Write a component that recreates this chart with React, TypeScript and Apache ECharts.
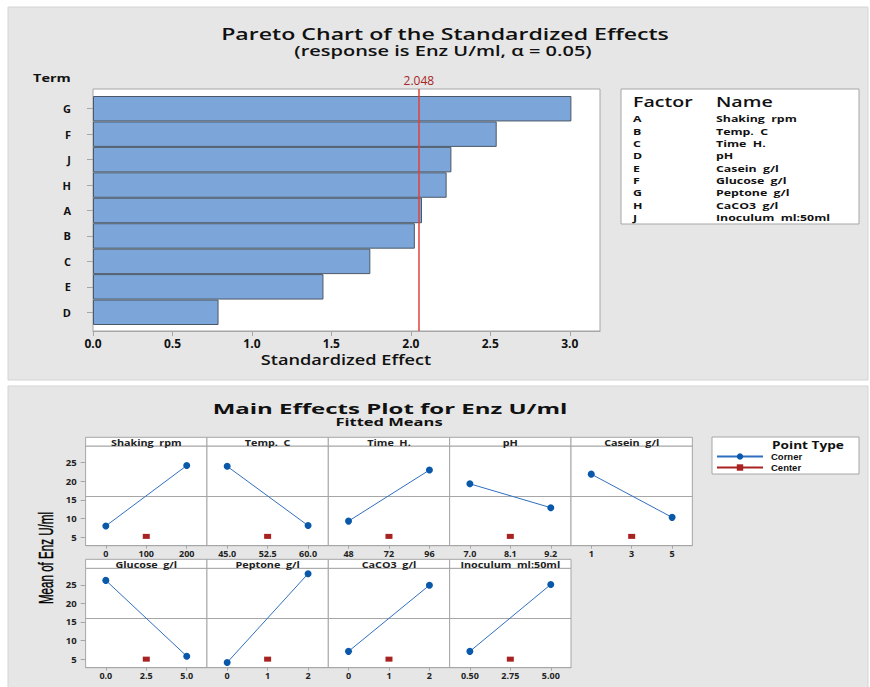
import React, { useEffect, useRef } from "react";
import * as echarts from "echarts";

// ---------- Data ----------
const terms = ["G", "F", "J", "H", "A", "B", "C", "E", "D"];
const effects = [3.01, 2.54, 2.255, 2.225, 2.07, 2.025, 1.745, 1.45, 0.79];
const criticalValue = 2.048;
const effectAxisMax = 3.19;

const factorCodes = ["A", "B", "C", "D", "E", "F", "G", "H", "J"];
const factorNames = [
  "Shaking  rpm",
  "Temp.  C",
  "Time  H.",
  "pH",
  "Casein  g/l",
  "Glucose  g/l",
  "Peptone  g/l",
  "CaCO3  g/l",
  "Inoculum  ml:50ml",
];
const levelLabels = [
  ["0", "100", "200"],
  ["45.0", "52.5", "60.0"],
  ["48", "72", "96"],
  ["7.0", "8.1", "9.2"],
  ["1", "3", "5"],
  ["0.0", "2.5", "5.0"],
  ["0", "1", "2"],
  ["0", "1", "2"],
  ["0.50", "2.75", "5.00"],
];
const cornerLow = [8.0, 24.0, 9.3, 19.3, 21.9, 26.2, 4.1, 7.1, 7.1];
const cornerHigh = [24.2, 8.1, 23.0, 12.9, 10.3, 5.8, 28.0, 24.9, 25.1];
const centerMeans = [5.2, 5.2, 5.2, 5.2, 5.2, 5.0, 5.0, 5.0, 5.0];
const grandMean = 15.9;
const meanTicks = [5, 10, 15, 20, 25];
const pointTypes = ["Corner", "Center"];

// ---------- Styles / layout ----------
const FONT = "'Open Sans', 'Noto Sans', sans-serif";
const GRID_BORDER = "#a6a6a6";
const PANEL_BG = "#e6e6e6";
const TEXT = "#111";

function label(
  text: string,
  x: number,
  y: number,
  fontSize: number,
  scaleX: number,
  align: string = "left",
  weight: any = "bold",
  fill: string = TEXT
) {
  return {
    type: "text",
    x,
    y,
    scaleX,
    z: 10,
    style: {
      text,
      fontFamily: FONT,
      fontWeight: weight,
      fontSize,
      fill,
      textAlign: align,
      textVerticalAlign: "middle",
    },
  };
}

export default function App() {
  const ref = useRef<HTMLDivElement>(null);

  useEffect(() => {
    if (!ref.current) return;
    const chart = echarts.init(ref.current, undefined, { renderer: "svg" });

    const grids: any[] = [];
    const xAxes: any[] = [];
    const yAxes: any[] = [];
    const series: any[] = [];
    const graphics: any[] = [];

    // panels background
    graphics.push({
      type: "rect",
      z: -10,
      shape: { x: 8, y: 7, width: 860, height: 373 },
      style: { fill: PANEL_BG, stroke: "#d4d4d4", lineWidth: 1 },
    });
    graphics.push({
      type: "rect",
      z: -10,
      shape: { x: 8, y: 386, width: 860, height: 305 },
      style: { fill: PANEL_BG, stroke: "#d4d4d4", lineWidth: 1 },
    });

    // ---------- Pareto ----------
    const pLeft = 93, pRight = 600, pTop = 89, pBottom = 331;
    grids.push({
      left: pLeft,
      top: pTop,
      width: pRight - pLeft,
      height: pBottom - pTop,
      show: true,
      backgroundColor: "#ffffff",
      borderColor: GRID_BORDER,
      borderWidth: 1,
      containLabel: false,
    });
    grids.push({
      left: pLeft,
      top: 96,
      width: pRight - pLeft,
      height: 229,
      containLabel: false,
    });
    xAxes.push({
      gridIndex: 0,
      type: "value",
      min: 0,
      max: effectAxisMax,
      interval: 0.5,
      splitLine: { show: false },
      axisLine: { show: true, lineStyle: { color: GRID_BORDER } },
      axisTick: { show: true, length: 5, lineStyle: { color: GRID_BORDER } },
      axisLabel: {
        color: TEXT,
        fontFamily: FONT,
        fontWeight: "bold",
        fontSize: 12,
        margin: 6,
        formatter: (v: number) => v.toFixed(1),
        showMaxLabel: false,
      },
    });
    xAxes.push({ gridIndex: 1, type: "value", min: 0, max: effectAxisMax, show: false });
    yAxes.push({ gridIndex: 0, type: "value", min: 0, max: 1, show: false });
    yAxes.push({
      gridIndex: 1,
      type: "category",
      data: terms,
      inverse: true,
      axisLine: { show: false },
      axisTick: { show: true, length: 6, alignWithLabel: true, lineStyle: { color: GRID_BORDER } },
      axisLabel: { color: TEXT, fontFamily: FONT, fontWeight: "bold", fontSize: 11, margin: 22 },
    });
    series.push({
      type: "bar",
      xAxisIndex: 1,
      yAxisIndex: 1,
      data: effects,
      barCategoryGap: "0%",
      itemStyle: { color: "#7ca6d9", borderColor: "#4b5868", borderWidth: 1 },
      silent: true,
      z: 3,
    });
    series.push({
      type: "line",
      xAxisIndex: 0,
      yAxisIndex: 0,
      data: [],
      z: 5,
      markLine: {
        silent: true,
        symbol: "none",
        lineStyle: { color: "#e0423c", width: 1.5, type: "solid" },
        label: {
          show: true,
          position: "end",
          formatter: criticalValue.toFixed(3),
          color: "#a52626",
          fontFamily: FONT,
          fontSize: 12,
          distance: 3,
        },
        data: [{ xAxis: criticalValue }],
      },
    });

    graphics.push(label("Standardized Effect", 346, 360, 14, 1.3, "center", 600));
    graphics.push(label("Term", 33, 78, 10, 1.45));
    graphics.push(label("Pareto Chart of the Standardized Effects", 445, 33, 17, 1.36, "center", 600));
    graphics.push(label("(response is Enz U/ml, \u03b1 = 0.05)", 443, 51, 13.5, 1.48, "center", 600));

    // Factor / Name box
    graphics.push({
      type: "rect",
      shape: { x: 621, y: 89, width: 238, height: 135 },
      style: { fill: "#fff", stroke: GRID_BORDER, lineWidth: 1 },
    });
    graphics.push(label("Factor", 633, 102, 14, 1.4, "left", 600));
    graphics.push(label("Name", 716, 102, 14, 1.4, "left", 600));
    factorCodes.forEach((c, i) => {
      const y = 118.5 + i * 12.35;
      graphics.push(label(c, 633, y, 9.5, 1.3));
      graphics.push(label(factorNames[i], 716, y, 9.5, 1.3));
    });

    // ---------- Main effects ----------
    graphics.push(label("Main Effects Plot for Enz U/ml", 390, 408, 15, 1.6, "center", "bold"));
    graphics.push(label("Fitted Means", 389, 422, 11, 1.5, "center"));
    graphics.push({
      type: "text",
      x: 46,
      y: 558,
      rotation: Math.PI / 2,
      scaleX: 0.58,
      z: 10,
      style: {
        text: "Mean of Enz U/ml",
        fontFamily: "'Liberation Sans', Arial, sans-serif",
        fontSize: 20,
        fill: "#000",
        stroke: "#000",
        lineWidth: 0.4,
        textAlign: "center",
        textVerticalAlign: "middle",
      },
    });

    const panelW = 121.35;
    const panelLeft0 = 85.6;
    const rows = [
      { stripTop: 437.3, plotTop: 446, plotBottom: 545.7 },
      { stripTop: 559.3, plotTop: 568.3, plotBottom: 667.7 },
    ];

    factorNames.forEach((name, i) => {
      const row = i < 5 ? 0 : 1;
      const col = i < 5 ? i : i - 5;
      const r = rows[row];
      const left = panelLeft0 + col * panelW;
      const gi = grids.length;
      grids.push({
        left,
        top: r.plotTop,
        width: panelW,
        height: r.plotBottom - r.plotTop,
        show: true,
        backgroundColor: "#fff",
        borderColor: GRID_BORDER,
        borderWidth: 1,
        containLabel: false,
      });
      xAxes.push({
        gridIndex: gi,
        type: "category",
        data: levelLabels[i],
        boundaryGap: true,
        axisLine: { show: true, lineStyle: { color: GRID_BORDER } },
        axisTick: { show: true, length: 3, alignWithLabel: true, lineStyle: { color: GRID_BORDER } },
        axisLabel: { color: "#222", fontFamily: FONT, fontWeight: "bold", fontSize: 9, margin: 3, interval: 0 },
      });
      yAxes.push({
        gridIndex: gi,
        type: "value",
        min: 2.7,
        max: 29.45,
        splitLine: { show: false },
        axisLine: { show: false },
        axisTick: {
          show: col === 0,
          length: 5,
          customValues: meanTicks,
          lineStyle: { color: GRID_BORDER },
        },
        axisLabel: {
          show: col === 0,
          customValues: meanTicks,
          color: "#222",
          fontFamily: FONT,
          fontWeight: "bold",
          fontSize: 9.5,
          margin: 9,
        },
      });
      const xi = xAxes.length - 1;
      const yi = yAxes.length - 1;
      series.push({
        name: pointTypes[0],
        type: "line",
        xAxisIndex: xi,
        yAxisIndex: yi,
        data: [cornerLow[i], null, cornerHigh[i]],
        connectNulls: true,
        symbol: "circle",
        symbolSize: 7,
        lineStyle: { color: "#2f6fbf", width: 1 },
        itemStyle: { color: "#0a58aa" },
        silent: true,
        z: 4,
        markLine: {
          silent: true,
          symbol: "none",
          label: { show: false },
          lineStyle: { color: GRID_BORDER, width: 1, type: "solid" },
          data: [{ yAxis: grandMean }],
          z: 2,
        },
      });
      series.push({
        name: pointTypes[1],
        type: "line",
        xAxisIndex: xi,
        yAxisIndex: yi,
        data: [null, centerMeans[i], null],
        symbol: "rect",
        symbolSize: [7, 5],
        lineStyle: { color: "#a82222", width: 1 },
        itemStyle: { color: "#a82222" },
        silent: true,
        z: 4,
      });

      // strip header
      graphics.push({
        type: "rect",
        shape: { x: left, y: r.stripTop, width: panelW, height: r.plotTop - r.stripTop },
        style: { fill: "#fff", stroke: GRID_BORDER, lineWidth: 1 },
      });
      graphics.push(label(name, left + panelW / 2, (r.stripTop + r.plotTop) / 2 + 0.3, 9, 1.2, "center", "bold", "#222"));
    });

    // Point type legend box
    graphics.push({
      type: "rect",
      shape: { x: 712, y: 437, width: 147, height: 37 },
      style: { fill: "#fff", stroke: GRID_BORDER, lineWidth: 1 },
    });
    graphics.push(label("Point Type", 772, 445.5, 10.5, 1.3));

    const legends = pointTypes.map((pt, k) => ({
      data: [pt],
      orient: "vertical",
      left: 716,
      top: 451.5 + k * 11,
      itemWidth: 46,
      itemHeight: 8,
      padding: 0,
      selectedMode: false,
      textStyle: {
        fontFamily: "'Liberation Sans', Arial, sans-serif",
        fontWeight: "bold",
        fontSize: 9.5,
        lineHeight: 9,
        color: TEXT,
        padding: [0, 0, 0, 3],
      },
    }));

    chart.setOption({
      animation: false,
      backgroundColor: "#ffffff",
      grid: grids,
      xAxis: xAxes,
      yAxis: yAxes,
      series,
      legend: legends,
      graphic: graphics,
    });

    return () => chart.dispose();
  }, []);

  return (
    <div
      ref={ref}
      style={{ position: "absolute", left: 0, top: 0, width: 870, height: 687 }}
    />
  );
}
